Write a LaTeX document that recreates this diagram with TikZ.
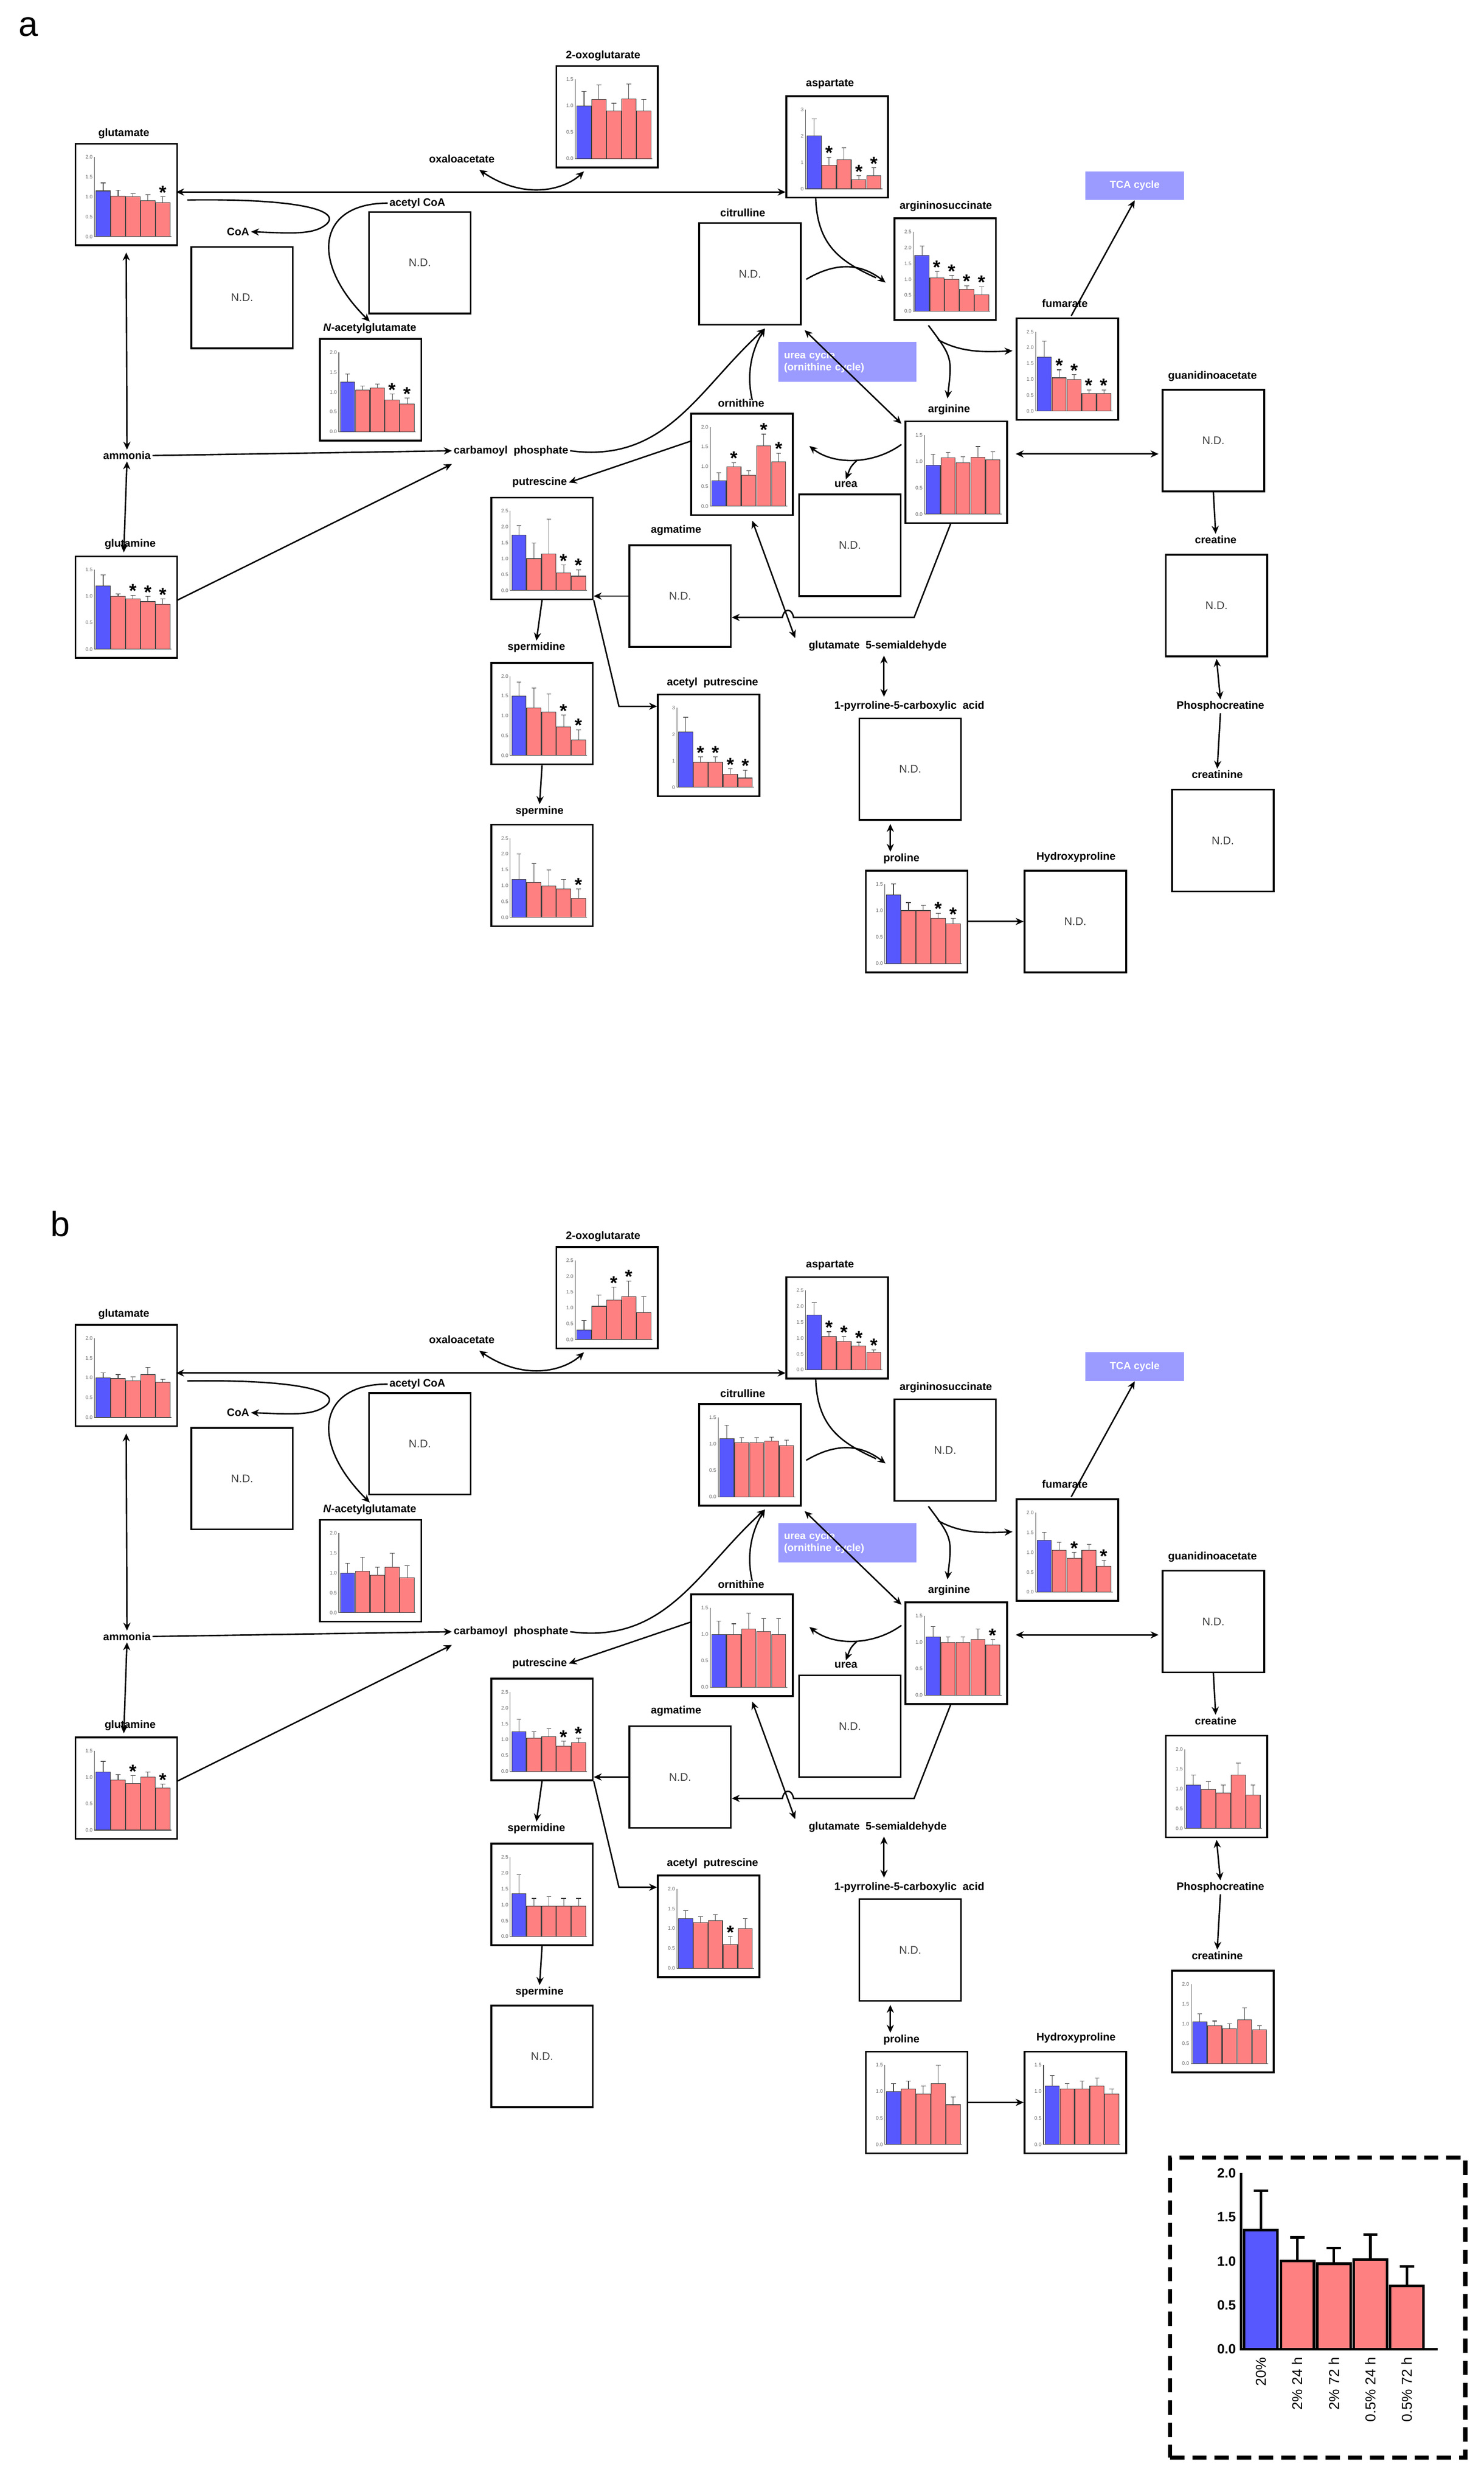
\documentclass[tikz,border=0pt]{standalone}
\usepackage{fontspec}
\setmainfont{Liberation Sans}
\usetikzlibrary{arrows.meta}
\definecolor{barblue}{HTML}{5858FF}
\definecolor{barred}{HTML}{FF8080}
\definecolor{cyc}{HTML}{9A9AFF}
\tikzset{
 box/.style={draw,line width=1.1pt,minimum width=64pt,minimum height=64pt,inner sep=0pt,
   font=\fontsize{7}{8}\selectfont,text=black!75},
 lbl/.style={font=\bfseries\fontsize{6.8}{8}\selectfont,inner sep=1pt},
 tick/.style={font=\fontsize{3.2}{4}\selectfont,text=black!60,anchor=east,inner sep=0.5pt},
 ax/.style={line width=0.35pt,black!70},
 con/.style={line width=0.9pt,-{Stealth[length=5pt,width=4.5pt]}},
 bcon/.style={line width=0.9pt,{Stealth[length=5pt,width=4.5pt]}-{Stealth[length=5pt,width=4.5pt]}},
 star/.style={font=\bfseries\fontsize{12}{12}\selectfont,inner sep=0pt,anchor=north},
 cyclebox/.style={fill=cyc,text=white,font=\bfseries\fontsize{6.5}{7.5}\selectfont,inner sep=2pt}
}
% #1 name, #2 x, #3 y, #4 ymax, #5 ticks, #6 val/err/star
\newcommand{\barchart}[6]{%
 \node[box,anchor=north west] (#1) at (#2,#3) {};
 \begin{scope}[shift={(#2,#3)}]
  \draw[ax] (12.5,9) -- (12.5,59) -- (61,59);
  \foreach \t in {#5} {\node[tick] at (12,{59-50*\t/#4}) {\t};}
  \foreach \v/\e/\s [count=\i] in {#6} {
   \pgfmathsetmacro\xl{13.5+(\i-1)*9.4}
   \pgfmathsetmacro\yt{59-50*\v/#4}
   \pgfmathsetmacro\ye{59-50*(\v+\e)/#4}
   \ifnum\i=1 \def\bc{barblue}\else\def\bc{barred}\fi
   \draw[line width=0.35pt,black!75] (\xl+4.5,\yt) -- (\xl+4.5,\ye) (\xl+3,\ye) -- (\xl+6,\ye);
   \filldraw[fill=\bc,draw=black!75,line width=0.35pt] (\xl,59) rectangle (\xl+9,\yt);
   \ifnum\s=1 \node[star] at (\xl+4.5,\ye-7) {*};\fi
  }
 \end{scope}}
\newcommand{\nd}[3]{\node[box,anchor=north west] (#1) at (#2,#3) {N.D.};}
\newcommand{\common}[1]{%
 \node[lbl] (#1l-glu) at (78,84) {glutamate};
 \node[lbl] (#1l-oxo) at (380,35) {2-oxoglutarate};
 \node[lbl] (#1l-oaa) at (291,100) {oxaloacetate};
 \node[lbl] (#1l-asp) at (523,53) {aspartate};
 \node[lbl] (#1l-acoa) at (263,128) {acetyl CoA};
 \node[lbl] (#1l-coa) at (150,146) {CoA};
 \node[lbl] (#1l-nag) at (233,207) {\textit{N}-acetylglutamate};
 \node[lbl] (#1l-cit) at (468,134) {citrulline};
 \node[lbl] (#1l-ars) at (596,130) {argininosuccinate};
 \node[lbl] (#1l-fum) at (671,191) {fumarate};
 \node[lbl] (#1l-gaa) at (764,237) {guanidinoacetate};
 \node[lbl] (#1l-orn) at (467,254) {ornithine};
 \node[lbl] (#1l-arg) at (598,258) {arginine};
 \node[lbl] (#1l-amm) at (80,287) {ammonia};
 \node[lbl] (#1l-cp) at (322,284) {carbamoyl\ \ phosphate};
 \node[lbl] (#1l-urea) at (533,305) {urea};
 \node[lbl] (#1l-put) at (340,304) {putrescine};
 \node[lbl] (#1l-agm) at (426,334) {agmatime};
 \node[lbl] (#1l-gln) at (82,343) {glutamine};
 \node[lbl] (#1l-cre) at (766,340) {creatine};
 \node[lbl] (#1l-spd) at (338,408) {spermidine};
 \node[lbl] (#1l-g5s) at (553,407) {glutamate\ \ 5-semialdehyde};
 \node[lbl] (#1l-acp) at (449,430) {acetyl\ \ putrescine};
 \node[lbl] (#1l-p5c) at (573,445) {1-pyrroline-5-carboxylic\ \ acid};
 \node[lbl] (#1l-pcr) at (769,445) {Phosphocreatine};
 \node[lbl] (#1l-crn) at (767,488) {creatinine};
 \node[lbl] (#1l-spm) at (340,511) {spermine};
 \node[lbl] (#1l-pro) at (568,541) {proline};
 \node[lbl] (#1l-hyp) at (678,540) {Hydroxyproline};
 \node[cyclebox,minimum width=62pt,minimum height=18pt] (#1tca) at (715,117) {TCA cycle};
 \node[cyclebox,minimum width=87pt,minimum height=25pt,align=left,text width=80pt] (#1uc) at (534,228) {urea cycle\\(ornithine cycle)};
 % connectors
 \draw[bcon] (111,121) -- (495,121);
 \draw[bcon] (302,107) .. controls (330,126) and (355,120) .. (368,108);
 \draw[con] (118,126) .. controls (185,125) and (215,132) .. (206,141) .. controls (198,148) and (185,147) .. (#1l-coa.east);
 \draw[con] (#1l-acoa.west) .. controls (200,128) and (195,165) .. (#1l-nag.north);
 \draw[bcon] (#1glu.south) ++(0,4) -- (#1l-amm.north);
 \draw[bcon] (#1l-amm.south) -- (78,348);
 \draw[con] (#1l-amm.east) -- (#1l-cp.west);
 \draw[con] (112,378) -- ([yshift=-4pt]#1l-cp.south west);
 \draw[con] (#1l-cp.east) .. controls (420,292) and (440,245) .. (482,207);
 \draw[con] (474,252) .. controls (470,235) and (474,220) .. (482,207);
 \draw[con] (435,278) -- (#1l-put.east);
 \draw[bcon] (507,208) -- (568,267);
 \draw[con] (568,280) .. controls (550,293) and (525,293) .. (510,281);
 \draw[con] (540,290) .. controls (536,294) .. (#1l-urea.north);
 \draw[bcon] (640,286) -- (730,286);
 \draw[con] (599,330) -- (576,389) -- (500,389) .. controls (499,383) and (494,383) .. (493,389) -- (#1agm.east |- 0,389);
 \draw[bcon] (474,328) -- (501,402);
 \draw[con] (585,205) .. controls (600,225) .. (597,251);
 \draw[con] (591,214) .. controls (605,222) and (620,222) .. (638,221);
 \draw[con] (508,176) .. controls (530,163) and (545,168) .. (558,178);
 \draw[line width=0.9pt] (514,125) .. controls (515,155) and (530,165) .. (552,175);
 \draw[con] (675,199) -- (#1tca.south);
 \draw[con] (#1put.south) -- (#1l-spd.north);
 \draw[con] (#1spd.south) -- (#1l-spm.north);
 \draw[con] (#1put.south east) -- (390,445) -- (#1acp.west |- 0,445);
 \draw[con] (#1agm.west) -- (#1put.east |- #1agm.west);
 \draw[bcon] (557,413) -- (557,439);
 \draw[bcon] (#1p5c.south -| 561,0) ++(0,2) -- (#1l-pro.north -| 561,0);
 \draw[con] (#1pro.east) -- (#1hyp.west);
 \draw[con] (#1gaa.south) -- (#1l-cre.north);
 \draw[bcon] (#1cre.south) ++(0,1) -- (#1l-pcr.north);
 \draw[con] (#1l-pcr.south) -- (#1l-crn.north);
}
\begin{document}
\begin{tikzpicture}[x=1pt,y=-1pt]
\useasboundingbox (0,0) rectangle (935,1570);
\node[font=\fontsize{22}{22}\selectfont] (pa) at (18,17) {a};
\node[font=\fontsize{22}{22}\selectfont] (pb) at (38,771) {b};
% ---------- panel a
\begin{scope}
\barchart{aglu}{47}{90}{2.0}{0.0,0.5,1.0,1.5,2.0}{1.15/.2/0,1.02/.15/0,1.0/.08/0,0.9/.15/0,0.85/.15/1}
\barchart{aoxo}{350}{41}{1.5}{0.0,0.5,1.0,1.5}{1.0/.27/0,1.12/.27/0,0.9/.15/0,1.13/.28/0,0.9/.22/0}
\barchart{aasp}{495}{60}{3}{0,1,2,3}{2.0/.65/0,0.9/.3/1,1.1/.45/0,0.35/.15/1,0.5/.3/1}
\nd{aacoa}{232}{133}
\nd{acoa}{120}{155}
\barchart{anag}{201}{213}{2.0}{0.0,0.5,1.0,1.5,2.0}{1.25/.2/0,1.05/.1/0,1.1/.1/0,0.8/.15/1,0.7/.15/1}
\nd{acit}{440}{140}
\barchart{aars}{563}{137}{2.5}{0.0,0.5,1.0,1.5,2.0,2.5}{1.75/.3/0,1.05/.2/1,1.0/.12/1,0.68/.12/1,0.52/.25/1}
\barchart{afum}{640}{200}{2.5}{0.0,0.5,1.0,1.5,2.0,2.5}{1.7/.5/0,1.05/.25/1,1.0/.15/1,0.55/.12/1,0.55/.12/1}
\nd{agaa}{732}{245}
\barchart{aorn}{435}{260}{2.0}{0.0,0.5,1.0,1.5,2.0}{0.65/.2/0,1.0/.1/1,0.78/.12/0,1.52/.3/1,1.12/.22/1}
\barchart{aarg}{570}{265}{1.5}{0.0,0.5,1.0,1.5}{0.93/.2/0,1.07/.1/0,0.97/.12/0,1.08/.2/0,1.03/.15/0}
\nd{aurea}{503}{311}
\barchart{aput}{309}{313}{2.5}{0.0,0.5,1.0,1.5,2.0,2.5}{1.75/.3/0,1.0/.5/0,1.15/1.1/0,0.55/.25/1,0.45/.2/1}
\nd{aagm}{396}{343}
\barchart{agln}{47}{350}{1.5}{0.0,0.5,1.0,1.5}{1.2/.2/0,1.0/.05/0,0.95/.07/1,0.9/.1/1,0.85/.1/1}
\nd{acre}{734}{349}
\barchart{aspd}{309}{417}{2.0}{0.0,0.5,1.0,1.5,2.0}{1.5/.35/0,1.2/.5/0,1.1/.45/0,0.72/.3/1,0.4/.25/1}
\barchart{aacp}{414}{437}{3}{0,1,2,3}{2.1/.55/0,0.95/.2/1,0.95/.2/1,0.5/.2/1,0.35/.3/1}
\nd{ap5c}{541}{452}
\nd{acrn}{738}{497}
\barchart{aspm}{309}{519}{2.5}{0.0,0.5,1.0,1.5,2.0,2.5}{1.2/.8/0,1.1/.6/0,1.0/.5/0,0.9/.3/0,0.6/.3/1}
\barchart{apro}{545}{548}{1.5}{0.0,0.5,1.0,1.5}{1.3/.2/0,1.0/.15/0,1.0/.1/0,0.85/.1/1,0.75/.1/1}
\nd{ahyp}{645}{548}
\common{a}
\end{scope}
% ---------- panel b
\begin{scope}[shift={(0,744)}]
\barchart{bglu}{47}{90}{2.0}{0.0,0.5,1.0,1.5,2.0}{1.0/.12/0,0.98/.1/0,0.92/.1/0,1.08/.18/0,0.88/.08/0}
\barchart{boxo}{350}{41}{2.5}{0.0,0.5,1.0,1.5,2.0,2.5}{0.3/.3/0,1.05/.35/0,1.25/.4/1,1.35/.5/1,0.85/.5/0}
\barchart{basp}{495}{60}{2.5}{0.0,0.5,1.0,1.5,2.0,2.5}{1.72/.4/0,1.05/.15/1,0.9/.15/1,0.75/.12/1,0.55/.08/1}
\nd{bacoa}{232}{133}
\nd{bcoa}{120}{155}
\barchart{bnag}{201}{213}{2.0}{0.0,0.5,1.0,1.5,2.0}{1.0/.25/0,1.05/.35/0,0.95/.2/0,1.15/.35/0,0.88/.3/0}
\barchart{bcit}{440}{140}{1.5}{0.0,0.5,1.0,1.5}{1.1/.25/0,1.02/.1/0,1.02/.1/0,1.05/.08/0,0.97/.1/0}
\nd{bars}{563}{137}
\barchart{bfum}{640}{200}{2.0}{0.0,0.5,1.0,1.5,2.0}{1.3/.2/0,1.05/.2/0,0.85/.15/1,1.05/.15/0,0.65/.15/1}
\nd{bgaa}{732}{245}
\barchart{born}{435}{260}{1.5}{0.0,0.5,1.0,1.5}{1.0/.25/0,1.0/.2/0,1.1/.3/0,1.05/.25/0,1.0/.3/0}
\barchart{barg}{570}{265}{1.5}{0.0,0.5,1.0,1.5}{1.1/.2/0,1.0/.1/0,1.0/.1/0,1.05/.2/0,0.95/.1/1}
\nd{burea}{503}{311}
\barchart{bput}{309}{313}{2.5}{0.0,0.5,1.0,1.5,2.0,2.5}{1.25/.4/0,1.05/.2/0,1.1/.25/0,0.8/.15/1,0.9/.15/1}
\nd{bagm}{396}{343}
\barchart{bgln}{47}{350}{1.5}{0.0,0.5,1.0,1.5}{1.1/.2/0,0.95/.1/0,0.88/.15/1,1.0/.1/0,0.8/.07/1}
\barchart{bcre}{734}{349}{2.0}{0.0,0.5,1.0,1.5,2.0}{1.1/.25/0,0.98/.2/0,0.9/.2/0,1.35/.3/0,0.85/.25/0}
\barchart{bspd}{309}{417}{2.5}{0.0,0.5,1.0,1.5,2.0,2.5}{1.35/.6/0,0.95/.25/0,0.95/.3/0,0.95/.25/0,0.95/.25/0}
\barchart{bacp}{414}{437}{2.0}{0.0,0.5,1.0,1.5,2.0}{1.25/.2/0,1.15/.15/0,1.2/.15/0,0.6/.2/1,1.0/.25/0}
\nd{bp5c}{541}{452}
\barchart{bcrn}{738}{497}{2.0}{0.0,0.5,1.0,1.5,2.0}{1.05/.2/0,0.95/.12/0,0.88/.12/0,1.1/.3/0,0.85/.1/0}
\nd{bspm}{309}{519}
\barchart{bpro}{545}{548}{1.5}{0.0,0.5,1.0,1.5}{1.0/.15/0,1.05/.15/0,0.95/.15/0,1.15/.35/0,0.75/.15/0}
\barchart{bhyp}{645}{548}{1.5}{0.0,0.5,1.0,1.5}{1.1/.2/0,1.05/.1/0,1.05/.15/0,1.1/.15/0,0.95/.1/0}
\common{b}
\end{scope}
% ---------- legend
\node[draw,dashed,dash pattern=on 9pt off 5pt,line width=2.6pt,minimum width=186pt,minimum height=189pt,anchor=north west] (leg) at (736,1358) {};
\begin{scope}[shift={(782,1480)}]
 \draw[line width=1.6pt] (0,-111) -- (0,0) -- (124,0);
 \foreach \t in {0.0,0.5,1.0,1.5,2.0}{\node[font=\bfseries\fontsize{8.5}{9}\selectfont,anchor=east,inner sep=1pt] at (-2,{-55.5*\t}) {\t};}
 \foreach \v/\e/\l [count=\i] in {1.35/.45/20\%,1.0/.27/2\% 24 h,0.97/.18/2\% 72 h,1.02/.28/0.5\% 24 h,0.72/.22/0.5\% 72 h}{
  \pgfmathsetmacro\xl{2+(\i-1)*23}
  \ifnum\i=1 \def\bc{barblue}\else\def\bc{barred}\fi
  \draw[line width=1.6pt] (\xl+10.5,{-55.5*\v}) -- (\xl+10.5,{-55.5*(\v+\e)}) (\xl+6,{-55.5*(\v+\e)}) -- (\xl+15,{-55.5*(\v+\e)});
  \filldraw[fill=\bc,line width=1.6pt] (\xl,0) rectangle (\xl+21,{-55.5*\v});
  \node[rotate=90,anchor=east,font=\fontsize{9}{10}\selectfont,inner sep=0pt] at (\xl+10.5,5) {\l};
 }
\end{scope}
\end{tikzpicture}
\end{document}
